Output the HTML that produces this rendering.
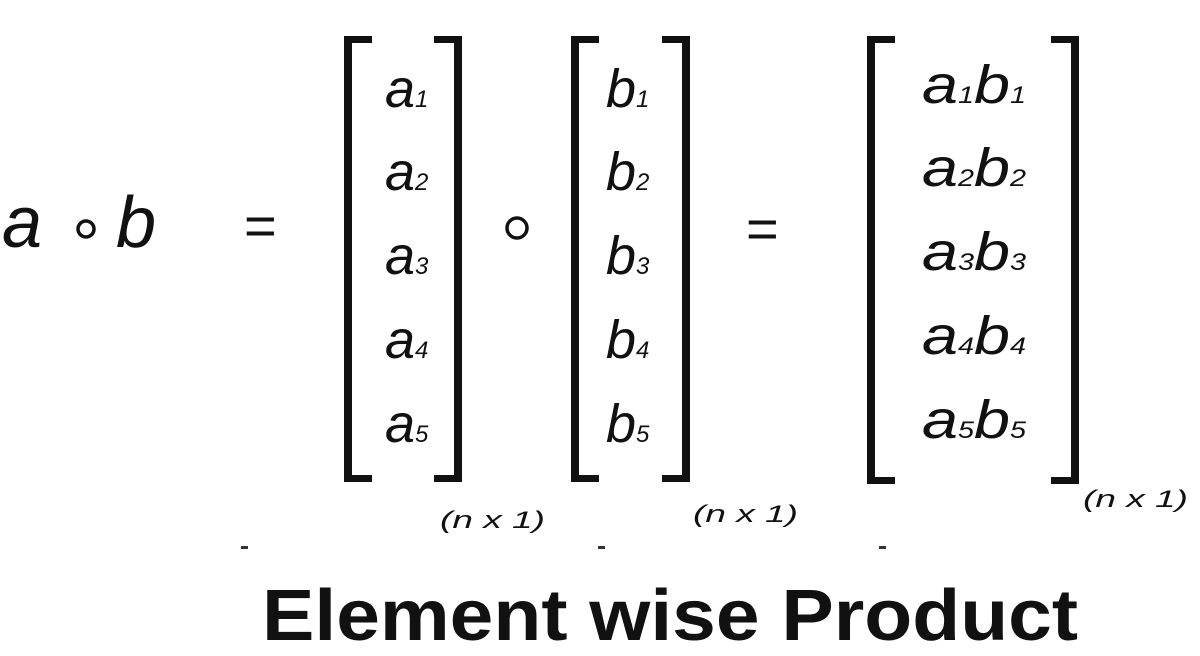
<!DOCTYPE html>
<html><head><meta charset="utf-8"><style>
html,body{margin:0;padding:0;background:#fff;width:1200px;height:656px;overflow:hidden}
svg{display:block}
text{font-family:"Liberation Sans",sans-serif;fill:#111}
.it{font-style:italic}
</style></head><body>
<svg width="1200" height="656" viewBox="0 0 1200 656">
<g>
<text x="2" y="247" font-size="72" class="it">a</text>
<circle cx="86" cy="229" r="8" fill="none" stroke="#111" stroke-width="3.5"/>
<text x="116" y="247" font-size="72" class="it">b</text>
</g>
<text x="244" y="245" font-size="56">=</text>
<g fill="#111">
<rect x="344" y="36" width="8" height="446"/><rect x="344" y="36" width="28" height="7"/><rect x="344" y="475" width="28" height="7"/>
<rect x="454" y="36" width="8" height="446"/><rect x="434" y="36" width="28" height="7"/><rect x="434" y="475" width="28" height="7"/>
</g>
<g font-size="54" class="it">
<text x="385" y="107" class="it">a<tspan font-size="24">1</tspan></text>
<text x="385" y="190" class="it">a<tspan font-size="24">2</tspan></text>
<text x="385" y="274" class="it">a<tspan font-size="24">3</tspan></text>
<text x="385" y="358" class="it">a<tspan font-size="24">4</tspan></text>
<text x="385" y="442" class="it">a<tspan font-size="24">5</tspan></text>
</g>
<circle cx="517" cy="228" r="10" fill="none" stroke="#111" stroke-width="3.5"/>
<g fill="#111">
<rect x="571" y="36" width="8" height="446"/><rect x="571" y="36" width="28" height="7"/><rect x="571" y="475" width="28" height="7"/>
<rect x="682" y="36" width="8" height="446"/><rect x="662" y="36" width="28" height="7"/><rect x="662" y="475" width="28" height="7"/>
</g>
<g font-size="54">
<text x="606" y="107" class="it">b<tspan font-size="24">1</tspan></text>
<text x="606" y="190" class="it">b<tspan font-size="24">2</tspan></text>
<text x="606" y="274" class="it">b<tspan font-size="24">3</tspan></text>
<text x="606" y="358" class="it">b<tspan font-size="24">4</tspan></text>
<text x="606" y="442" class="it">b<tspan font-size="24">5</tspan></text>
</g>
<text x="746" y="248" font-size="56">=</text>
<g fill="#111">
<rect x="867" y="36" width="8" height="448"/><rect x="867" y="36" width="28" height="7"/><rect x="867" y="477" width="28" height="7"/>
<rect x="1071" y="36" width="8" height="448"/><rect x="1051" y="36" width="28" height="7"/><rect x="1051" y="477" width="28" height="7"/>
</g>
<g font-size="54">
<text x="922" y="103" class="it" textLength="104" lengthAdjust="spacingAndGlyphs">a<tspan font-size="24">1</tspan>b<tspan font-size="24">1</tspan></text>
<text x="922" y="186" class="it" textLength="104" lengthAdjust="spacingAndGlyphs">a<tspan font-size="24">2</tspan>b<tspan font-size="24">2</tspan></text>
<text x="922" y="270" class="it" textLength="104" lengthAdjust="spacingAndGlyphs">a<tspan font-size="24">3</tspan>b<tspan font-size="24">3</tspan></text>
<text x="922" y="354" class="it" textLength="104" lengthAdjust="spacingAndGlyphs">a<tspan font-size="24">4</tspan>b<tspan font-size="24">4</tspan></text>
<text x="922" y="438" class="it" textLength="104" lengthAdjust="spacingAndGlyphs">a<tspan font-size="24">5</tspan>b<tspan font-size="24">5</tspan></text>
</g>
<text x="440" y="528" font-size="24" class="it" textLength="105" lengthAdjust="spacingAndGlyphs">(n x 1)</text>
<text x="693" y="522" font-size="24" class="it" textLength="105" lengthAdjust="spacingAndGlyphs">(n x 1)</text>
<text x="1083" y="507" font-size="24" class="it" textLength="105" lengthAdjust="spacingAndGlyphs">(n x 1)</text>
<g fill="#333">
<rect x="241" y="546" width="7" height="3"/><rect x="598" y="546" width="7" height="3"/><rect x="879" y="546" width="7" height="3"/>
</g>
<text x="262" y="640" font-size="72" font-weight="bold" textLength="816" lengthAdjust="spacingAndGlyphs">Element wise Product</text>
</svg>
</body></html>
